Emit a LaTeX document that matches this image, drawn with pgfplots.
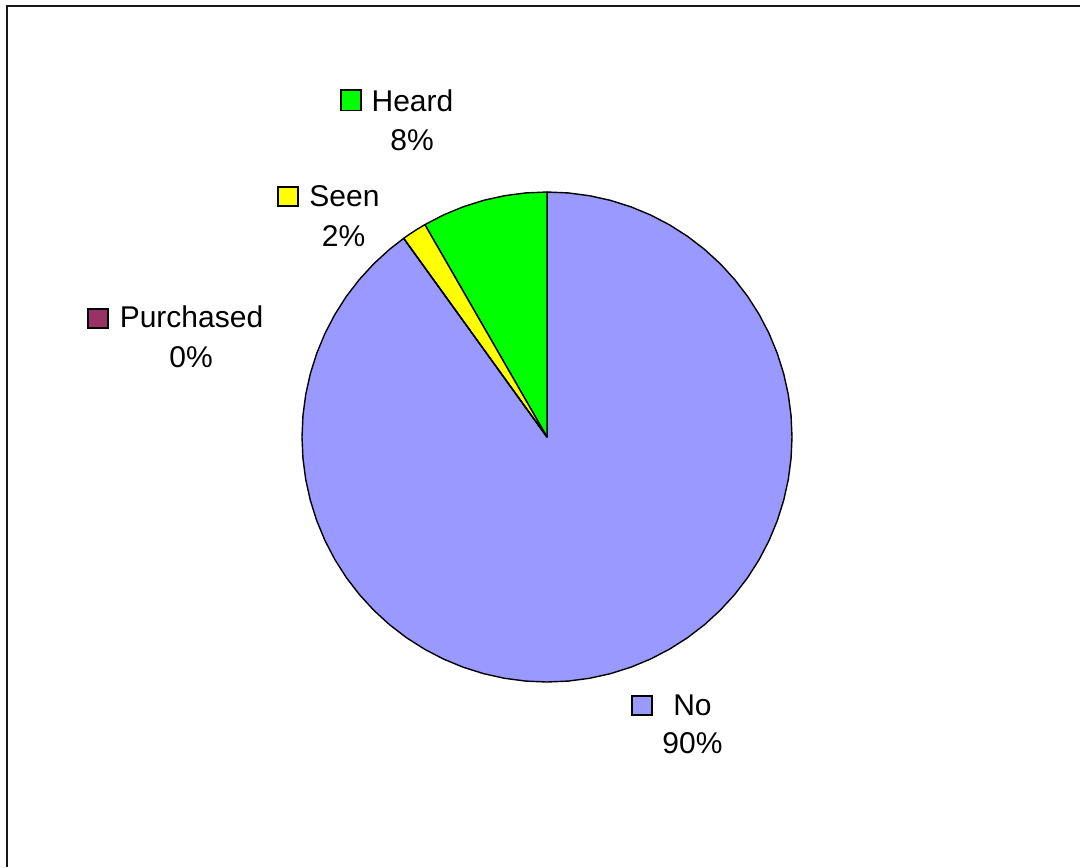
\documentclass[border=0pt]{standalone}
\usepackage{pgfplots}
\pgfplotsset{compat=1.18}
\usepgfplotslibrary{polar}
\usepackage{fontspec}
\setmainfont{Liberation Sans}
\definecolor{cNo}{HTML}{9999FF}
\definecolor{cHeard}{HTML}{00FF00}
\definecolor{cSeen}{HTML}{FFFF00}
\definecolor{cPurch}{HTML}{993366}
\begin{document}
\begin{tikzpicture}
\useasboundingbox (0,0) rectangle (540pt,-433.5pt);
\begin{polaraxis}[
  at={(273.5pt,-218.5pt)}, anchor=center,
  scale only axis, width=245pt, height=245pt,
  hide axis, ymin=0, ymax=1, xmin=0, xmax=360, clip=false,
]
% No: 90.0% (from 125.8 deg clockwise round to 90 deg)
\addplot[fill=cNo, draw=black, line width=0.7pt, line join=round] coordinates {
(0,0) (125.8,1) (130,1) (135,1) (140,1) (145,1) (150,1) (155,1) (160,1) (165,1)
(170,1) (175,1) (180,1) (185,1) (190,1) (195,1) (200,1) (205,1) (210,1) (215,1)
(220,1) (225,1) (230,1) (235,1) (240,1) (245,1) (250,1) (255,1) (260,1) (265,1)
(270,1) (275,1) (280,1) (285,1) (290,1) (295,1) (300,1) (305,1) (310,1) (315,1)
(320,1) (325,1) (330,1) (335,1) (340,1) (345,1) (350,1) (355,1) (360,1) (365,1)
(370,1) (375,1) (380,1) (385,1) (390,1) (395,1) (400,1) (405,1) (410,1) (415,1)
(420,1) (425,1) (430,1) (435,1) (440,1) (445,1) (450,1)
} -- cycle;
% Heard: 8.3%
\addplot[fill=cHeard, draw=black, line width=0.7pt, line join=round] coordinates {
(0,0) (90,1) (95,1) (100,1) (105,1) (110,1) (115,1) (119.9,1)
} -- cycle;
% Seen: 1.6%
\addplot[fill=cSeen, draw=black, line width=0.7pt, line join=round] coordinates {
(0,0) (119.9,1) (122,1) (124,1) (125.8,1)
} -- cycle;
% Purchased: 0%
\addplot[draw=black, line width=0.7pt] coordinates {(0,0) (125.8,1)};
\end{polaraxis}
\begin{scope}[x=0.5pt,y=-0.5pt]
\draw[line width=1pt, black!90] (7,867) -- (7,6) -- (1080,6);
\fontsize{15}{18}\selectfont
\node[anchor=base, inner sep=0pt] at (412.5,111.7) {Heard};
\node[anchor=base, inner sep=0pt] at (412,150) {8\%};
\node[anchor=base, inner sep=0pt] at (344.5,206.7) {Seen};
\node[anchor=base, inner sep=0pt] at (343.5,246.7) {2\%};
\node[anchor=base, inner sep=0pt] at (191.5,327.7) {Purchased};
\node[anchor=base, inner sep=0pt] at (191,367) {0\%};
\node[anchor=base, inner sep=0pt] at (692.5,715) {No};
\node[anchor=base, inner sep=0pt] at (692.5,753) {90\%};
\draw[fill=cHeard, line width=0.6pt] (341,90) rectangle (361,110.5);
\draw[fill=cSeen, line width=0.6pt] (278,187) rectangle (298,206);
\draw[fill=cPurch, line width=0.6pt] (88,309) rectangle (108,328);
\draw[fill=cNo, line width=0.6pt] (632,696) rectangle (652,715);
\end{scope}
\end{tikzpicture}
\end{document}
